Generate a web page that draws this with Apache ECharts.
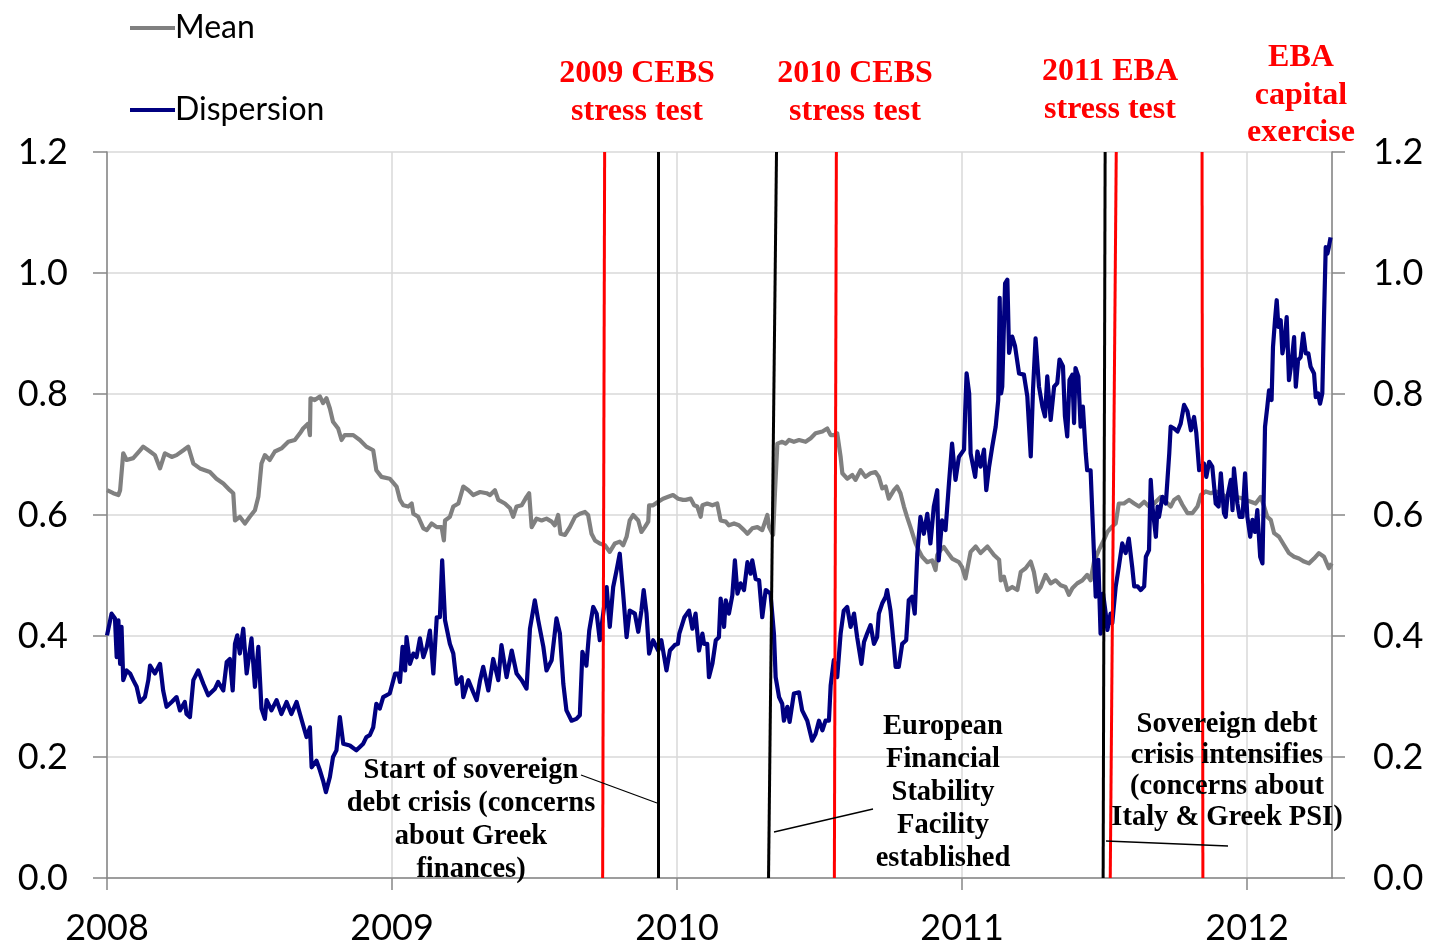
<!DOCTYPE html>
<html>
<head>
<meta charset="utf-8">
<script src="https://cdn.jsdelivr.net/npm/echarts@6/dist/echarts.min.js"></script>
<style>
html,body{margin:0;padding:0;background:#fff;}
#chart{width:1431px;height:951px;}
</style>
</head>
<body>
<div id="chart"></div>
<script>
// ---- Data (decimal years, values) ----
const meanYears = [2008.000,2008.022,2008.040,2008.046,2008.057,2008.069,2008.092,2008.116,2008.127,2008.151,2008.168,2008.186,2008.203,2008.227,2008.244,2008.268,2008.285,2008.303,2008.326,2008.361,2008.384,2008.408,2008.431,2008.443,2008.449,2008.466,2008.484,2008.501,2008.519,2008.531,2008.542,2008.554,2008.571,2008.589,2008.612,2008.636,2008.659,2008.677,2008.688,2008.706,2008.712,2008.714,2008.729,2008.747,2008.758,2008.770,2008.782,2008.793,2008.811,2008.823,2008.834,2008.864,2008.887,2008.910,2008.934,2008.945,2008.963,2008.992,
2009.016,2009.028,2009.040,2009.057,2009.069,2009.075,2009.092,2009.110,2009.122,2009.139,2009.157,2009.174,2009.182,2009.186,2009.203,2009.215,2009.233,2009.250,2009.268,2009.285,2009.309,2009.332,2009.344,2009.361,2009.373,2009.396,2009.414,2009.425,2009.437,2009.455,2009.472,2009.481,2009.490,2009.507,2009.525,2009.542,2009.560,2009.571,2009.583,2009.591,2009.607,2009.624,2009.642,2009.659,2009.677,2009.688,2009.700,2009.712,2009.729,2009.747,2009.764,2009.782,2009.799,2009.811,2009.823,2009.834,2009.846,2009.864,2009.875,2009.887,2009.899,2009.902,2009.916,2009.934,2009.951,2009.969,2009.986,2010.004,2010.021,
2010.030,2010.048,2010.060,2010.071,2010.083,2010.089,2010.106,2010.124,2010.141,2010.153,2010.171,2010.182,2010.200,2010.217,2010.235,2010.247,2010.264,2010.282,2010.299,2010.317,2010.323,2010.337,2010.344,2010.352,2010.369,2010.381,2010.393,2010.410,2010.428,2010.451,2010.469,2010.486,2010.510,2010.527,2010.539,2010.550,2010.562,2010.574,2010.580,2010.597,2010.615,2010.626,2010.644,2010.661,2010.679,2010.696,2010.708,2010.720,2010.732,2010.743,2010.761,2010.772,2010.784,2010.796,2010.807,2010.819,2010.837,2010.848,2010.860,2010.878,2010.895,2010.907,2010.913,2010.925,2010.936,2010.948,2010.965,2010.989,2011.000,2011.012,
2011.019,2011.030,2011.048,2011.065,2011.089,2011.112,2011.130,2011.136,2011.147,2011.159,2011.176,2011.194,2011.206,2011.223,2011.241,2011.252,2011.264,2011.276,2011.293,2011.311,2011.328,2011.346,2011.363,2011.375,2011.387,2011.404,2011.422,2011.439,2011.451,2011.463,2011.480,2011.498,2011.510,2011.527,2011.539,2011.550,2011.568,
2011.586,2011.604,2011.621,2011.639,2011.656,2011.674,2011.697,2011.715,2011.732,2011.744,2011.759,2011.773,2011.791,2011.808,2011.826,2011.838,2011.855,2011.873,2011.890,2011.908,2011.925,2011.943,2011.960,2011.978,2011.995,2012.013,2012.030,2012.048,2012.060,2012.071,2012.083,2012.095,2012.112,2012.130,2012.147,2012.165,2012.182,2012.200,2012.217,2012.235,2012.252,2012.270,2012.287,2012.297];
const meanValues = [0.641,0.636,0.633,0.641,0.702,0.691,0.694,0.707,0.713,0.705,0.699,0.677,0.702,0.696,0.699,0.707,0.713,0.685,0.677,0.671,0.660,0.652,0.641,0.636,0.591,0.597,0.586,0.597,0.608,0.630,0.685,0.699,0.691,0.705,0.710,0.721,0.724,0.735,0.743,0.751,0.732,0.793,0.790,0.796,0.785,0.793,0.776,0.754,0.743,0.724,0.732,0.732,0.724,0.713,0.707,0.674,0.663,0.660,
0.647,0.625,0.616,0.614,0.619,0.602,0.597,0.578,0.575,0.586,0.580,0.580,0.558,0.591,0.597,0.614,0.619,0.647,0.641,0.633,0.638,0.636,0.633,0.641,0.625,0.619,0.611,0.597,0.614,0.616,0.630,0.636,0.580,0.594,0.591,0.594,0.589,0.583,0.600,0.569,0.567,0.580,0.597,0.602,0.605,0.600,0.569,0.558,0.553,0.550,0.539,0.553,0.556,0.550,0.564,0.591,0.600,0.591,0.572,0.580,0.589,0.616,0.616,0.622,0.627,0.630,0.633,0.627,0.625,
0.625,0.627,0.616,0.614,0.597,0.616,0.619,0.616,0.619,0.591,0.589,0.583,0.586,0.583,0.575,0.569,0.578,0.580,0.575,0.600,0.580,0.567,0.641,0.718,0.721,0.718,0.724,0.721,0.724,0.721,0.727,0.735,0.738,0.743,0.732,0.732,0.735,0.696,0.669,0.660,0.666,0.658,0.674,0.663,0.669,0.671,0.663,0.644,0.647,0.627,0.641,0.647,0.636,0.614,0.597,0.580,0.553,0.542,0.531,0.522,0.525,0.509,0.534,0.542,0.547,0.539,0.528,0.522,0.514,0.495,
0.492,0.539,0.548,0.537,0.548,0.534,0.526,0.492,0.498,0.476,0.481,0.476,0.506,0.512,0.523,0.506,0.473,0.481,0.501,0.487,0.492,0.484,0.481,0.468,0.479,0.487,0.492,0.501,0.492,0.523,0.542,0.559,0.572,0.581,0.586,0.619,0.619,
0.625,0.619,0.614,0.622,0.614,0.619,0.630,0.622,0.614,0.625,0.630,0.617,0.603,0.603,0.614,0.633,0.639,0.636,0.639,0.636,0.630,0.636,0.630,0.628,0.625,0.622,0.619,0.630,0.614,0.597,0.592,0.570,0.564,0.550,0.537,0.531,0.528,0.523,0.520,0.528,0.537,0.531,0.512,0.520];

const dispYears = [2008.000,2008.016,2008.028,2008.034,2008.040,2008.046,2008.051,2008.057,2008.069,2008.081,2008.092,2008.104,2008.116,2008.133,2008.145,2008.151,2008.168,2008.186,2008.197,2008.209,2008.227,2008.244,2008.256,2008.273,2008.279,2008.291,2008.303,2008.320,2008.338,2008.355,2008.379,2008.390,2008.408,2008.420,2008.431,2008.441,2008.449,2008.457,2008.466,2008.478,2008.490,2008.507,2008.519,2008.531,2008.542,2008.554,2008.560,2008.577,2008.595,2008.612,2008.630,2008.647,2008.665,2008.677,2008.700,2008.712,2008.718,2008.735,2008.747,2008.758,2008.768,2008.782,2008.793,2008.805,2008.817,2008.829,2008.852,2008.875,2008.899,2008.910,2008.922,2008.934,2008.945,2008.957,2008.969,2008.992,
2009.011,2009.022,2009.028,2009.037,2009.046,2009.051,2009.063,2009.075,2009.086,2009.098,2009.110,2009.122,2009.133,2009.145,2009.157,2009.168,2009.176,2009.186,2009.203,2009.215,2009.227,2009.244,2009.250,2009.268,2009.285,2009.297,2009.309,2009.320,2009.338,2009.355,2009.373,2009.384,2009.402,2009.420,2009.437,2009.455,2009.472,2009.484,2009.501,2009.513,2009.531,2009.542,2009.560,2009.577,2009.589,2009.601,2009.612,2009.630,2009.647,2009.659,2009.668,2009.682,2009.692,2009.706,2009.718,2009.729,2009.741,2009.753,2009.764,2009.776,2009.788,2009.799,2009.811,2009.823,2009.834,2009.852,2009.864,2009.875,2009.883,2009.893,2009.902,2009.916,2009.934,2009.945,2009.963,2009.975,2009.992,2010.003,2010.008,2010.026,
2010.042,2010.054,2010.065,2010.077,2010.089,2010.095,2010.106,2010.112,2010.124,2010.136,2010.147,2010.153,2010.165,2010.171,2010.182,2010.194,2010.203,2010.212,2010.223,2010.235,2010.247,2010.258,2010.264,2010.276,2010.288,2010.299,2010.311,2010.328,2010.340,2010.346,2010.358,2010.369,2010.375,2010.387,2010.395,2010.410,2010.428,2010.439,2010.457,2010.474,2010.486,2010.498,2010.510,2010.521,2010.533,2010.539,2010.550,2010.562,2010.574,2010.585,2010.597,2010.609,2010.621,2010.632,2010.647,2010.656,2010.667,2010.679,2010.691,2010.702,2010.708,2010.720,2010.732,2010.737,2010.749,2010.761,2010.767,2010.778,2010.790,2010.804,2010.813,2010.825,2010.834,2010.843,2010.854,2010.866,2010.878,2010.889,2010.901,2010.913,2010.918,2010.930,2010.942,2010.954,2010.965,2010.977,2010.989,
2011.007,2011.011,2011.016,2011.025,2011.030,2011.046,2011.054,2011.065,2011.077,2011.085,2011.095,2011.106,2011.118,2011.127,2011.132,2011.137,2011.141,2011.151,2011.159,2011.165,2011.176,2011.186,2011.200,2011.217,2011.229,2011.241,2011.249,2011.258,2011.270,2011.282,2011.291,2011.299,2011.311,2011.323,2011.334,2011.342,2011.354,2011.361,2011.369,2011.377,2011.387,2011.393,2011.398,2011.408,2011.416,2011.424,2011.434,2011.439,2011.451,2011.459,2011.469,2011.478,2011.486,2011.495,2011.504,2011.510,2011.521,2011.527,2011.539,2011.550,2011.562,2011.574,2011.585,2011.597,
2011.604,2011.616,2011.627,2011.639,2011.645,2011.656,2011.662,2011.668,2011.680,2011.686,2011.691,2011.703,2011.715,2011.727,2011.732,2011.744,2011.756,2011.767,2011.779,2011.791,2011.803,2011.814,2011.822,2011.832,2011.838,2011.849,2011.857,2011.867,2011.878,2011.890,2011.900,2011.908,2011.919,2011.925,2011.931,2011.943,2011.949,2011.954,2011.966,2011.974,2011.984,2011.993,2012.001,2012.011,2012.019,2012.028,2012.036,2012.046,2012.054,2012.063,2012.071,2012.077,2012.086,2012.091,2012.098,2012.104,2012.110,2012.118,2012.124,2012.132,2012.139,2012.147,2012.157,2012.165,2012.171,2012.179,2012.188,2012.197,2012.206,2012.215,2012.223,2012.235,2012.241,2012.249,2012.256,2012.264,2012.270,2012.276,2012.282,2012.287,2012.293];
const dispValues = [0.401,0.437,0.429,0.365,0.426,0.354,0.415,0.327,0.343,0.338,0.327,0.316,0.291,0.299,0.327,0.351,0.338,0.354,0.310,0.283,0.291,0.299,0.277,0.291,0.271,0.266,0.327,0.343,0.321,0.302,0.313,0.324,0.310,0.357,0.362,0.310,0.387,0.401,0.371,0.412,0.338,0.396,0.316,0.382,0.280,0.263,0.294,0.277,0.294,0.271,0.291,0.271,0.291,0.271,0.233,0.249,0.183,0.194,0.178,0.161,0.142,0.167,0.200,0.211,0.266,0.222,0.219,0.211,0.222,0.233,0.236,0.249,0.288,0.280,0.299,0.305,
0.338,0.338,0.324,0.382,0.343,0.398,0.354,0.371,0.365,0.396,0.365,0.382,0.409,0.338,0.431,0.431,0.525,0.426,0.387,0.371,0.321,0.332,0.299,0.327,0.307,0.294,0.327,0.349,0.310,0.362,0.327,0.385,0.332,0.376,0.338,0.327,0.313,0.412,0.459,0.426,0.382,0.343,0.360,0.429,0.404,0.321,0.277,0.260,0.263,0.269,0.374,0.351,0.409,0.448,0.437,0.393,0.437,0.481,0.415,0.481,0.509,0.536,0.470,0.398,0.442,0.437,0.407,0.442,0.476,0.437,0.371,0.393,0.376,0.393,0.343,0.376,0.385,0.387,0.404,0.431,
0.442,0.412,0.437,0.376,0.404,0.387,0.387,0.332,0.354,0.393,0.398,0.462,0.415,0.459,0.437,0.467,0.525,0.470,0.487,0.476,0.522,0.503,0.525,0.494,0.492,0.431,0.476,0.470,0.404,0.332,0.299,0.288,0.260,0.283,0.258,0.305,0.307,0.277,0.260,0.227,0.238,0.260,0.244,0.260,0.260,0.318,0.360,0.332,0.404,0.442,0.448,0.415,0.437,0.398,0.354,0.390,0.404,0.418,0.387,0.398,0.437,0.454,0.465,0.476,0.442,0.382,0.349,0.349,0.387,0.393,0.459,0.465,0.437,0.536,0.597,0.569,0.602,0.553,0.614,0.641,0.525,0.591,0.575,0.652,0.718,0.658,0.696,
0.708,0.771,0.834,0.801,0.702,0.663,0.705,0.680,0.708,0.641,0.680,0.713,0.746,0.790,0.959,0.801,0.812,0.983,0.989,0.868,0.895,0.879,0.834,0.832,0.796,0.697,0.807,0.892,0.812,0.779,0.763,0.829,0.757,0.812,0.818,0.857,0.846,0.763,0.730,0.823,0.832,0.752,0.843,0.829,0.746,0.779,0.702,0.674,0.674,0.581,0.465,0.526,0.404,0.470,0.437,0.410,0.437,0.421,0.481,0.514,0.553,0.537,0.561,0.514,
0.482,0.482,0.476,0.482,0.531,0.542,0.658,0.614,0.564,0.614,0.597,0.630,0.619,0.702,0.746,0.743,0.738,0.751,0.782,0.771,0.740,0.762,0.735,0.674,0.674,0.685,0.663,0.688,0.680,0.619,0.614,0.669,0.603,0.597,0.630,0.658,0.608,0.677,0.619,0.597,0.597,0.669,0.597,0.564,0.592,0.572,0.608,0.531,0.520,0.746,0.779,0.806,0.790,0.878,0.922,0.955,0.911,0.922,0.867,0.889,0.927,0.823,0.856,0.894,0.812,0.856,0.861,0.900,0.867,0.867,0.845,0.834,0.795,0.801,0.784,0.801,0.927,1.043,1.032,1.043,1.059];

// Event lines: year at top (1.2) and at bottom (0.0); kind: 'test' or 'crisis'
const eventTopYears    = [2009.746, 2009.933, 2010.349, 2010.559, 2011.502, 2011.541, 2011.842];
const eventBottomYears = [2009.739, 2009.933, 2010.321, 2010.552, 2011.495, 2011.520, 2011.845];
const eventKinds       = ['test', 'crisis', 'crisis', 'test', 'crisis', 'test', 'test'];

const xTickLabels = ['2008', '2009', '2010', '2011', '2012'];
const yTickLabels = ['0.0', '0.2', '0.4', '0.6', '0.8', '1.0', '1.2'];

const testLabels = ['2009 CEBS\nstress test', '2010 CEBS\nstress test', '2011 EBA\nstress test', 'EBA\ncapital\nexercise'];
const crisisLabels = ['Start of sovereign\ndebt crisis (concerns\nabout Greek\nfinances)',
  'European\nFinancial\nStability\nFacility\nestablished',
  'Sovereign debt\ncrisis intensifies\n(concerns about\nItaly & Greek PSI)'];

// ---- Build ----
const meanData = meanYears.map((x, i) => [x, meanValues[i]]);
const dispData = dispYears.map((x, i) => [x, dispValues[i]]);
const kindColor = { test: '#ff0000', crisis: '#000000' };
const eventLines = eventTopYears.map((t, i) => [
  { coord: [t, 1.2], lineStyle: { color: kindColor[eventKinds[i]], width: 3, type: 'solid' } },
  { coord: [eventBottomYears[i], 0] }
]);

const AX = '#868686';
const GRID = '#d9d9d9';
const SANS = 'Lato, "Open Sans", sans-serif';
const SERIF = '"Liberation Serif", "DejaVu Serif", serif';

const redFont = 'bold 32px ' + SERIF;
const blkFont = 'bold 28.5px ' + SERIF;

function txt(text, x, y, font, color, lh) {
  return { type: 'text', x: x, y: y, z: 100,
    style: { text: text, font: font, fill: color, textAlign: 'center', textVerticalAlign: 'top', lineHeight: lh } };
}
function seg(x1, y1, x2, y2) {
  return { type: 'line', z: 100, shape: { x1: x1, y1: y1, x2: x2, y2: y2 }, style: { stroke: '#000', lineWidth: 1.3 } };
}

const chart = echarts.init(document.getElementById('chart'), null, { renderer: 'canvas' });
chart.setOption({
  animation: false,
  backgroundColor: '#ffffff',
  grid: { left: 107, right: 99, top: 152, bottom: 73, containLabel: false },
  legend: {
    data: ['Mean', 'Dispersion'],
    orient: 'vertical', left: 123, top: 7,
    itemWidth: 45, itemHeight: 30, itemGap: 50,
    itemStyle: { opacity: 0 },
    lineStyle: { width: 4 },
    textStyle: { fontFamily: SANS, fontSize: 32, color: '#000', lineHeight: 30, padding: [0, 0, 0, -5] },
    selectedMode: false
  },
  xAxis: {
    type: 'value', min: 2008, max: 2012.298, interval: 1,
    axisLine: { show: true, lineStyle: { color: AX, width: 1.5 } },
    axisTick: { show: true, length: 12, lineStyle: { color: AX, width: 1.5 } },
    splitLine: { show: true, lineStyle: { color: GRID, width: 1.5 } },
    axisLabel: {
      showMaxLabel: false, margin: 32,
      fontFamily: SANS, fontSize: 36, color: '#000',
      formatter: v => xTickLabels[Math.round(v) - 2008] || ''
    }
  },
  yAxis: [{
    type: 'value', min: 0, max: 1.2, interval: 0.2, position: 'left',
    axisLine: { show: true, lineStyle: { color: AX, width: 1.5 } },
    axisTick: { show: true, length: 14, lineStyle: { color: AX, width: 1.5 } },
    splitLine: { show: true, lineStyle: { color: GRID, width: 1.5 } },
    axisLabel: { margin: 39, fontFamily: SANS, fontSize: 36, color: '#000',
      formatter: v => yTickLabels[Math.round(v * 5)] }
  }, {
    type: 'value', min: 0, max: 1.2, interval: 0.2, position: 'right',
    axisLine: { show: true, lineStyle: { color: AX, width: 1.5 } },
    axisTick: { show: true, length: 13, lineStyle: { color: AX, width: 1.5 } },
    splitLine: { show: false },
    axisLabel: { margin: 41, fontFamily: SANS, fontSize: 36, color: '#000',
      formatter: v => yTickLabels[Math.round(v * 5)] }
  }],
  series: [{
    name: 'Mean', type: 'line', data: meanData, symbol: 'none', showSymbol: false, z: 3,
    lineStyle: { color: '#808080', width: 4.2, join: 'round' }, itemStyle: { color: '#808080' }
  }, {
    name: 'Dispersion', type: 'line', data: dispData, symbol: 'none', showSymbol: false, z: 4,
    lineStyle: { color: '#000080', width: 4.2, join: 'round' }, itemStyle: { color: '#000080' }
  }, {
    name: 'events', type: 'line', data: [], z: 5,
    markLine: { silent: true, symbol: 'none', label: { show: false }, animation: false, data: eventLines }
  }],
  graphic: [
    txt(testLabels[0], 637, 55, redFont, '#ff0000', 38),
    txt(testLabels[1], 855, 55, redFont, '#ff0000', 38),
    txt(testLabels[2], 1110, 53, redFont, '#ff0000', 38),
    txt(testLabels[3], 1301, 39, redFont, '#ff0000', 37.5),
    txt(crisisLabels[0], 471, 754, blkFont, '#000', 33),
    txt(crisisLabels[1], 943, 710, blkFont, '#000', 33),
    txt(crisisLabels[2], 1227, 709, blkFont, '#000', 31),
    seg(581, 775, 657, 803),
    seg(774, 832, 873, 809),
    seg(1106, 841, 1228, 846)
  ]
});
</script>
</body>
</html>
